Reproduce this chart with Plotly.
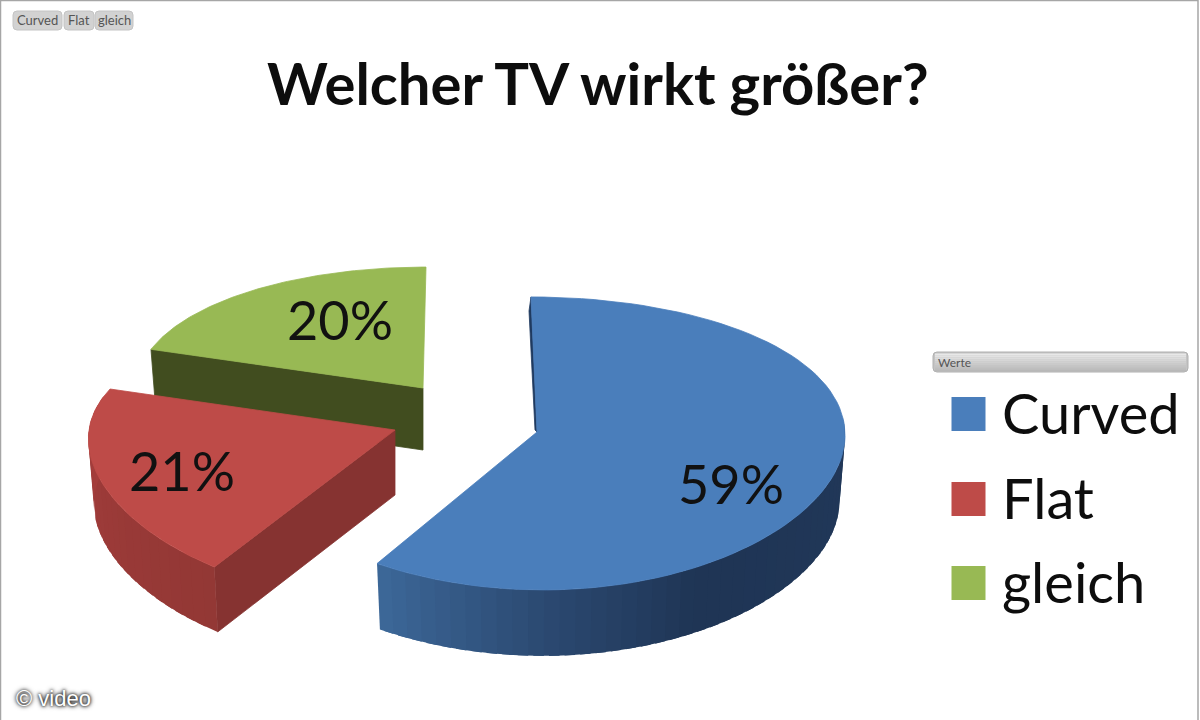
import math

import plotly.graph_objects as go


CATEGORIES = ["Curved", "Flat", "gleich"]
VALUES = [59, 21, 20]
PCT_LABELS = ["59%", "21%", "20%"]
TITLE = "Welcher TV wirkt größer?"

_FONT = "Lato, 'Open Sans', sans-serif"
_TOP = ["#4a7ebb", "#be4b48", "#98b954"]
_RADIAL_WALL = ["#1f3a5f", "#863331", "#414d1f"]
_WALL_STOPS = [
    [(85, "#22395a"), (150, "#1f3555"), (180, "#2c4a72"), (212, "#3d6899")],
    [(212, "#933835"), (250, "#9c3b39"), (285, "#a83f3d")],
    [],
]

# per slice projection: apex px, x radius, y radius, perspective, x shear, depth
_APEX = [(537, 432), (395, 430), (423, 388)]
_RX = [308, 306, 287]
_RY = [145.6, 139.5, 127]
_K = [0.078, 0.166, 0.05]
_SHEAR = [-6, 19.7, 3]
_DEPTH = [66, 65, 62]
_LABEL_POS = [(731, 483), (182, 470), (340, 319)]
_LEGEND_Y = [414, 499, 583]


def project(i, theta, r=1.0):
    u = r * math.sin(math.radians(theta))
    v = r * math.cos(math.radians(theta))
    ax, ay = _APEX[i]
    return ax + _RX[i] * u + _SHEAR[i] * v, ay - _RY[i] * v / (1 + _K[i] * v)


def drop(i, pt):
    ax = _APEX[i][0]
    return ax + (pt[0] - ax) * 0.982, pt[1] + _DEPTH[i]


def mix(stops, theta):
    if theta <= stops[0][0]:
        return stops[0][1]
    for (t0, c0), (t1, c1) in zip(stops, stops[1:]):
        if theta <= t1:
            f = (theta - t0) / (t1 - t0)
            a = [int(c0[j:j + 2], 16) for j in (1, 3, 5)]
            b = [int(c1[j:j + 2], 16) for j in (1, 3, 5)]
            return "rgb(%d,%d,%d)" % tuple(p + (q - p) * f for p, q in zip(a, b))
    return stops[-1][1]


def poly(fig, pts, color, width=0.8):
    fig.add_trace(go.Scatter(
        x=[p[0] for p in pts] + [pts[0][0]],
        y=[p[1] for p in pts] + [pts[0][1]],
        mode="lines",
        fill="toself",
        fillcolor=color,
        line={"color": color, "width": width},
        hoverinfo="skip",
        showlegend=False,
    ))


total = sum(VALUES)
starts = []
acc = 0
for val in VALUES:
    starts.append(acc / total * 360)
    acc += val

fig = go.Figure()

# back to front, so green first and blue last
for i in [2, 1, 0]:
    t0 = starts[i]
    t1 = t0 + VALUES[i] / total * 360

    # flat cut wall
    a = _APEX[i]
    edge = project(i, t0)
    if i == 0:
        poly(fig, [edge, a, (a[0] - 2, a[1] - 2), (edge[0] - 2, edge[1] + 14)], _RADIAL_WALL[i])
    else:
        poly(fig, [a, edge, drop(i, edge), drop(i, a)], _RADIAL_WALL[i])

    # curved outer wall, drawn in short overlapping pieces for the shading
    lo, hi = max(t0, 85), min(t1, 285)
    if hi > lo and _WALL_STOPS[i]:
        n = int((hi - lo) / 3) + 1
        for s in range(n):
            ta = lo + (hi - lo) * s / n
            tb = min(hi, lo + (hi - lo) * (s + 1) / n + 2)
            arc = [project(i, ta + (tb - ta) * j / 4) for j in range(5)]
            poly(fig, arc + [drop(i, p) for p in reversed(arc)], mix(_WALL_STOPS[i], ta + 1.5), 0)

    # top face
    n = 90
    arc = [project(i, t0 + (t1 - t0) * s / n) for s in range(n + 1)]
    poly(fig, [a] + arc, _TOP[i])

# legend swatches
fig.add_trace(go.Scatter(
    x=[968.5] * 3,
    y=_LEGEND_Y,
    mode="markers",
    marker={"symbol": "square", "size": 34, "color": _TOP, "line": {"width": 0}},
    hoverinfo="skip",
    showlegend=False,
))

annotations = [
    {"x": 598, "y": 82, "text": "<b>" + TITLE + "</b>", "font": {"size": 58, "color": "#0d0d0d", "family": _FONT}},
    {"x": 14, "y": 698, "text": "© video", "xanchor": "left",
     "font": {"size": 22, "color": "#ffffff", "family": "Liberation Sans",
              "shadow": "0 0 3px #000000, 0 0 5px #000000"}},
    {"x": 936, "y": 362, "text": "Werte", "xanchor": "left", "font": {"size": 12, "color": "#555555", "family": _FONT}},
]
for pos, label in zip(_LABEL_POS, PCT_LABELS):
    annotations.append({"x": pos[0], "y": pos[1], "text": label, "font": {"size": 54, "color": "#111111", "family": _FONT}})
for y, cat in zip(_LEGEND_Y, CATEGORIES):
    annotations.append({"x": 1000, "y": y - 2, "text": cat, "xanchor": "left", "font": {"size": 56, "color": "#0d0d0d", "family": _FONT}})

shapes = [
    {"type": "rect", "x0": 0.5, "x1": 1198, "y0": 0.5, "y1": 722, "line": {"color": "#a6a6a6", "width": 1.5}, "layer": "below"},
]


def rounded(x0, x1, y0, y1, r=4):
    return (f"M{x0+r},{y0} L{x1-r},{y0} Q{x1},{y0} {x1},{y0+r} L{x1},{y1-r} Q{x1},{y1} {x1-r},{y1} "
            f"L{x0+r},{y1} Q{x0},{y1} {x0},{y1-r} L{x0},{y0+r} Q{x0},{y0} {x0+r},{y0} Z")


# field buttons from the pivot chart
for x0, x1, label in [(13, 62, CATEGORIES[0]), (64, 94, CATEGORIES[1]), (95, 133, CATEGORIES[2])]:
    shapes.append({"type": "path", "path": rounded(x0, x1, 11, 30), "fillcolor": "#d2d2d2",
                   "line": {"color": "#c4c4c4", "width": 1}})
    annotations.append({"x": (x0 + x1) / 2, "y": 20, "text": label, "font": {"size": 13, "color": "#555555", "family": _FONT}})

shapes.append({"type": "path", "path": rounded(933, 1188, 352, 372), "fillcolor": "#c4c4c4",
               "line": {"color": "#b0b0b0", "width": 1}})
for k in range(9):
    level = 232 - k * 6
    shapes.append({"type": "rect", "x0": 935, "x1": 1186, "y0": 353.5 + k * 2, "y1": 355.5 + k * 2,
                   "fillcolor": f"rgb({level},{level},{level})", "line": {"width": 0}})

for ann in annotations:
    ann.update({"xref": "x", "yref": "y", "showarrow": False})
    ann.setdefault("xanchor", "center")
    ann.setdefault("yanchor", "middle")

fig.update_layout(
    paper_bgcolor="#ffffff",
    plot_bgcolor="#ffffff",
    width=1200,
    height=720,
    margin={"l": 0, "r": 0, "t": 0, "b": 0},
    xaxis={"range": [0, 1200], "visible": False, "fixedrange": True},
    yaxis={"range": [720, 0], "visible": False, "fixedrange": True},
    showlegend=False,
    shapes=shapes,
    annotations=annotations,
)
fig.write_html("out.html", config={"displayModeBar": False},
               post_script="document.body.style.margin='0';document.body.style.overflow='hidden';")
